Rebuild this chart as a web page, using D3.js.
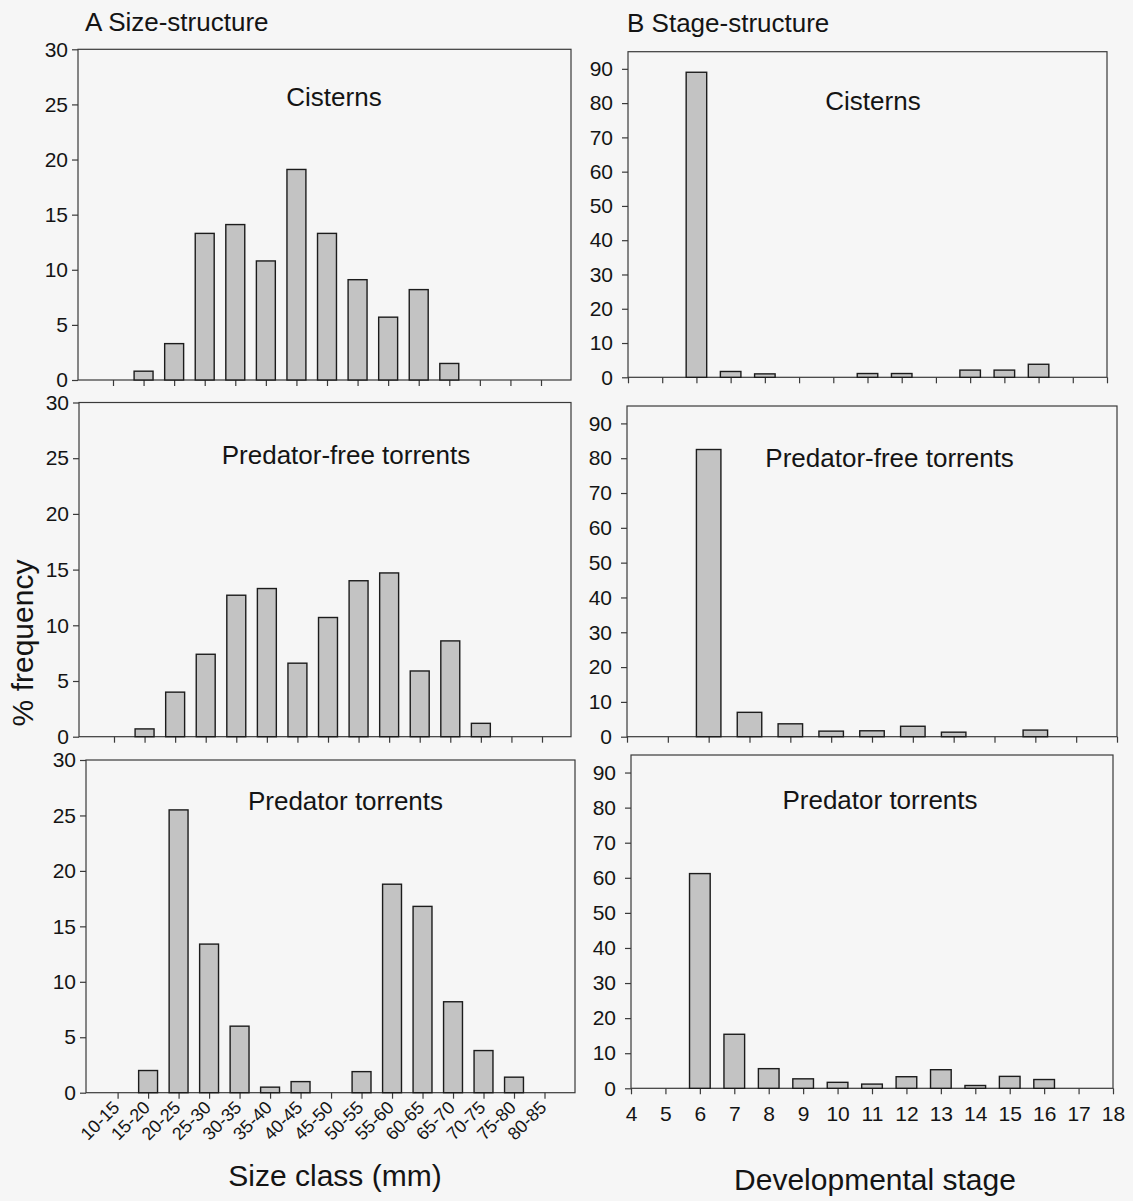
<!DOCTYPE html>
<html><head><meta charset="utf-8">
<script src="https://cdn.jsdelivr.net/npm/d3@7"></script>
<style>
body{margin:0;background:#f6f6f6}
svg{display:block}
text{font-family:"Liberation Sans",Arial,Helvetica,sans-serif;fill:#141414}
</style>
</head><body>
<svg id="chart" width="1133" height="1201"></svg>
<script>
// ---------- data ----------
const sizeClasses = ["10-15","15-20","20-25","25-30","30-35","35-40","40-45","45-50","50-55","55-60","60-65","65-70","70-75","75-80","80-85"];
const sizeCisterns = [0, 0.8, 3.3, 13.3, 14.1, 10.8, 19.1, 13.3, 9.1, 5.7, 8.2, 1.5, 0, 0, 0];
const sizePredatorFree = [0, 0.7, 4.0, 7.4, 12.7, 13.3, 6.6, 10.7, 14.0, 14.7, 5.9, 8.6, 1.2, 0, 0];
const sizePredator = [0, 2.0, 25.5, 13.4, 6.0, 0.5, 1.0, 0, 1.9, 18.8, 16.8, 8.2, 3.8, 1.4, 0];

const stagesFull = [4,5,6,7,8,9,10,11,12,13,14,15,16,17,18];
const stagesShort = [4,5,6,7,8,9,10,11,12,13,14,15,16];
const stageCisterns = [0, 0, 89.0, 1.7, 1.0, 0, 0, 1.1, 1.1, 0, 2.1, 2.1, 3.8, 0, 0];
const stagePredatorFree = [0, 0, 82.5, 7.0, 3.7, 1.6, 1.7, 3.0, 1.3, 0, 1.9, 0, 0];
const stagePredator = [0, 0, 61.2, 15.4, 5.6, 2.7, 1.7, 1.2, 3.3, 5.3, 0.8, 3.4, 2.5, 0, 0];

const sizeTicks = [0, 5, 10, 15, 20, 25, 30];
const stageTicks = [0, 10, 20, 30, 40, 50, 60, 70, 80, 90];
const habitatTitles = ["Cisterns", "Predator-free torrents", "Predator torrents"];
const panelHeadings = ["A Size-structure", "B Stage-structure"];
const axisTitles = ["% frequency", "Size class (mm)", "Developmental stage"];

// ---------- layout (positions only) ----------
const sizePanels = [
  {cats: sizeClasses, vals: sizeCisterns, title: habitatTitles[0], x0: 78, x1: 571, y0: 49.3, y1: 380, t0: 113, t1: 541, tx: 334, ty: 106, labels: false},
  {cats: sizeClasses, vals: sizePredatorFree, title: habitatTitles[1], x0: 79, x1: 571, y0: 402.5, y1: 736.7, t0: 114, t1: 542, tx: 346, ty: 464, labels: false},
  {cats: sizeClasses, vals: sizePredator, title: habitatTitles[2], x0: 86, x1: 575, y0: 760, y1: 1092.7, t0: 117.6, t1: 544.5, tx: 345.5, ty: 810, labels: true}
];
const stagePanels = [
  {cats: stagesFull, vals: stageCisterns, title: habitatTitles[0], x0: 628, x1: 1107, y0: 51.7, y1: 377.3, tx: 873, ty: 110, labels: false},
  {cats: stagesShort, vals: stagePredatorFree, title: habitatTitles[1], x0: 627, x1: 1117, y0: 406, y1: 736.7, tx: 889.6, ty: 467, labels: false},
  {cats: stagesFull, vals: stagePredator, title: habitatTitles[2], x0: 631, x1: 1113, y0: 755, y1: 1088.3, tx: 880, ty: 809, labels: true}
];

const svg = d3.select("#chart");
const BAR_FILL = "#c3c3c3", BAR_STROKE = "#1c1c1c", FRAME = "#3a3a3a";

function styleAxis(g){
  g.select(".domain").remove();
  g.selectAll(".tick line").attr("stroke", FRAME).attr("stroke-width", 1.2);
  g.selectAll(".tick text").attr("fill", "#141414");
}

// size panels
sizePanels.forEach(p => {
  const x = d3.scalePoint().domain(p.cats).range([p.t0, p.t1]);
  const y = d3.scaleLinear().domain([0, 30]).range([p.y1, p.y0]);
  const step = x.step();
  const bw = step * 0.62;
  const g = svg.append("g");
  g.append("rect").attr("x", p.x0).attr("y", p.y0).attr("width", p.x1 - p.x0).attr("height", p.y1 - p.y0)
    .attr("fill", "none").attr("stroke", FRAME).attr("stroke-width", 1.2);
  g.append("g").attr("transform", `translate(${p.x0},0)`)
    .call(d3.axisLeft(y).tickValues(sizeTicks).tickSize(6).tickPadding(4))
    .call(styleAxis)
    .selectAll("text").style("font-size", "21px").attr("font-family", "Liberation Sans, Arial, sans-serif");
  g.append("g").attr("transform", `translate(0,${p.y1})`)
    .call(d3.axisBottom(x).tickSize(6).tickFormat(""))
    .call(styleAxis);
  g.selectAll("rect.bar").data(p.cats.map((c, i) => ({c, v: p.vals[i]})).filter(d => d.v > 0))
    .join("rect").attr("class", "bar")
    .attr("x", d => x(d.c) - bw / 2).attr("width", bw)
    .attr("y", d => y(d.v)).attr("height", d => y(0) - y(d.v))
    .attr("fill", BAR_FILL).attr("stroke", BAR_STROKE).attr("stroke-width", 1.4);
  g.append("text").attr("x", p.tx).attr("y", p.ty).attr("text-anchor", "middle")
    .style("font-size", "26px").text(p.title);
  if (p.labels) {
    g.selectAll("text.cat").data(p.cats).join("text").attr("class", "cat")
      .attr("text-anchor", "end").style("font-size", "18px")
      .attr("transform", d => `translate(${x(d) + 3},${p.y1 + 16}) rotate(-45)`)
      .text(d => d);
  }
});

// stage panels
stagePanels.forEach(p => {
  const x = d3.scaleLinear().domain([p.cats[0], p.cats[p.cats.length - 1]]).range([p.x0, p.x1]);
  const y = d3.scaleLinear().domain([0, 95]).range([p.y1, p.y0]);
  const step = x(1) - x(0);
  const bw = step * 0.6;
  const g = svg.append("g");
  g.append("rect").attr("x", p.x0).attr("y", p.y0).attr("width", p.x1 - p.x0).attr("height", p.y1 - p.y0)
    .attr("fill", "none").attr("stroke", FRAME).attr("stroke-width", 1.2);
  g.append("g").attr("transform", `translate(${p.x0},0)`)
    .call(d3.axisLeft(y).tickValues(stageTicks).tickSize(6).tickPadding(9))
    .call(styleAxis)
    .selectAll("text").style("font-size", "21px").attr("font-family", "Liberation Sans, Arial, sans-serif");
  const xa = d3.axisBottom(x).tickValues(p.cats).tickSize(6).tickPadding(12);
  if (!p.labels) xa.tickFormat("");
  else xa.tickFormat(d3.format("d"));
  g.append("g").attr("transform", `translate(0,${p.y1})`)
    .call(xa).call(styleAxis)
    .selectAll("text").style("font-size", "21px").attr("font-family", "Liberation Sans, Arial, sans-serif");
  g.selectAll("rect.bar").data(p.cats.map((c, i) => ({c, v: p.vals[i]})).filter(d => d.v > 0))
    .join("rect").attr("class", "bar")
    .attr("x", d => x(d.c) - bw / 2).attr("width", bw)
    .attr("y", d => y(d.v)).attr("height", d => y(0) - y(d.v))
    .attr("fill", BAR_FILL).attr("stroke", BAR_STROKE).attr("stroke-width", 1.4);
  g.append("text").attr("x", p.tx).attr("y", p.ty).attr("text-anchor", "middle")
    .style("font-size", "26px").text(p.title);
});

// headings and axis titles
svg.append("text").attr("x", 85).attr("y", 31).style("font-size", "26px").text(panelHeadings[0]);
svg.append("text").attr("x", 627).attr("y", 32).style("font-size", "26px").text(panelHeadings[1]);
svg.append("text").attr("transform", "translate(33,643) rotate(-90)").attr("text-anchor", "middle")
  .style("font-size", "30px").text(axisTitles[0]);
svg.append("text").attr("x", 335).attr("y", 1186).attr("text-anchor", "middle")
  .style("font-size", "30px").text(axisTitles[1]);
svg.append("text").attr("x", 875).attr("y", 1190).attr("text-anchor", "middle")
  .style("font-size", "30px").text(axisTitles[2]);
</script>
</body></html>
